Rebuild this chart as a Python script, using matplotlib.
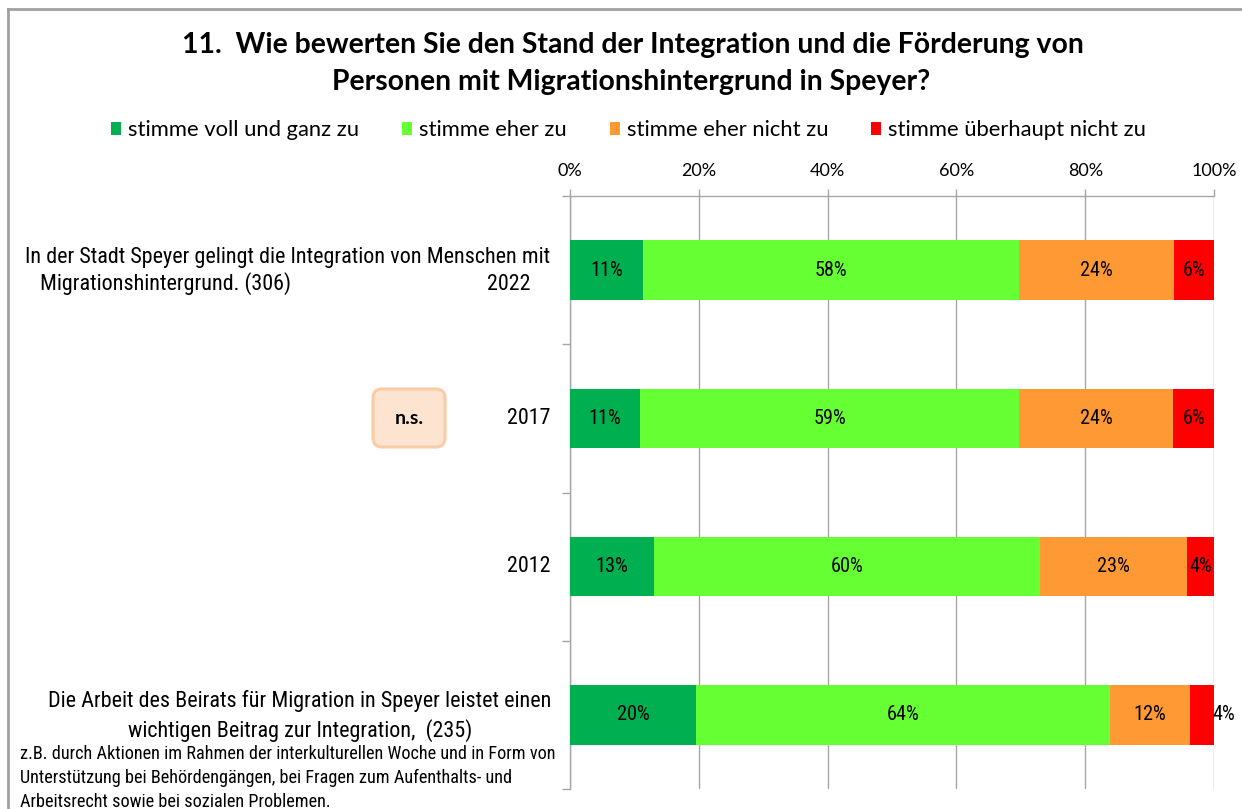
import matplotlib
matplotlib.use("Agg")
import matplotlib.pyplot as plt
from matplotlib.patches import FancyBboxPatch, Patch
from matplotlib.transforms import IdentityTransform
from matplotlib.lines import Line2D
from matplotlib import font_manager as fm

# ---------------- data ----------------
categories = ["2022", "2017", "2012", "Beirat"]
series_names = ["stimme voll und ganz zu", "stimme eher zu",
                "stimme eher nicht zu", "stimme überhaupt nicht zu"]
voll_und_ganz = [11.4, 10.9, 13.0, 19.6]
eher_zu = [58.3, 58.8, 60.0, 64.3]
eher_nicht_zu = [24.1, 24.0, 22.8, 12.3]
ueberhaupt_nicht = [6.2, 6.3, 4.2, 3.8]
colors = ["#00B050", "#66FF33", "#FF9933", "#FF0000"]
xticks = [0, 20, 40, 60, 80, 100]
xtick_labels = ["0%", "20%", "40%", "60%", "80%", "100%"]

title_lines = ["11.  Wie bewerten Sie den Stand der Integration und die Förderung von",
               "Personen mit Migrationshintergrund in Speyer?"]
q1_line1 = "In der Stadt Speyer gelingt die Integration von Menschen mit"
q1_line2 = "Migrationshintergrund. (306)"
q2_text = "Die Arbeit des Beirats für Migration in Speyer leistet einen\nwichtigen Beitrag zur Integration,  (235)"
footnote = ("z.B. durch Aktionen im Rahmen der interkulturellen Woche und in Form von\n"
            "Unterstützung bei Behördengängen, bei Fragen zum Aufenthalts- und\n"
            "Arbeitsrecht sowie bei sozialen Problemen.")
ns_text = "n.s."

# ---------------- fonts ----------------
avail = {f.name for f in fm.fontManager.ttflist}
narrow_kw = {"family": "Liberation Sans"}
if "Liberation Sans Narrow" in avail:
    narrow_kw = {"family": "Liberation Sans Narrow"}
elif "Roboto Condensed" in avail:
    narrow_kw = {"family": "Roboto Condensed"}
elif any(f.name == "DejaVu Sans" and f.stretch == "condensed" for f in fm.fontManager.ttflist):
    narrow_kw = {"family": "DejaVu Sans", "fontstretch": "condensed"}
cal = "Lato" if "Lato" in avail else "DejaVu Sans"

W, H = 1242, 809
fig = plt.figure(figsize=(W / 100, H / 100), dpi=100)
fig.patch.set_facecolor("white")
renderer = fig.canvas.get_renderer()


def fx(x):
    return x / W


def fy(y):
    return 1 - y / H


def fit(t, width):
    bb = t.get_window_extent(renderer)
    t.set_fontsize(t.get_fontsize() * width / bb.width)
    return t.get_fontsize()


# outer frame
fig.add_artist(Line2D([fx(8), 1], [fy(9), fy(9)], color="#A0A0A0", lw=2, transform=fig.transFigure))
fig.add_artist(Line2D([fx(8), fx(8)], [fy(9), 0], color="#A0A0A0", lw=2, transform=fig.transFigure))

# title
t1 = fig.text(fx(633), fy(45), title_lines[0], ha="center", va="center",
              fontsize=18, fontweight="bold", family=cal)
fs_title = fit(t1, 905)
t2 = fig.text(fx(631), fy(82), title_lines[1], ha="center", va="center",
              fontsize=fs_title, fontweight="bold", family=cal)

# data label size
probe = fig.text(0, 0, "58%", fontsize=14, **narrow_kw)
fs_dl = fit(probe, 33)
probe.remove()

# ---------------- axes ----------------
ax = fig.add_axes([fx(570), fy(789), 644 / W, 593 / H])
ypos = list(range(len(categories)))
left = [0.0] * len(categories)
series = [voll_und_ganz, eher_zu, eher_nicht_zu, ueberhaupt_nicht]
handles = []
last_labels = None
for vals, col, name in zip(series, colors, series_names):
    bars = ax.barh(ypos, vals, left=left, height=0.4, color=col, edgecolor="none",
                   label=name, zorder=3)
    last_labels = ax.bar_label(bars, labels=[f"{v:.0f}%" for v in vals], label_type="center",
                               fontsize=fs_dl, color="black", zorder=4, **narrow_kw)
    left = [l + v for l, v in zip(left, vals)]
    handles.append(Patch(facecolor=col, edgecolor="none", label=name))
# in the reference the last small label sits just outside the bar end
last_labels[-1].xyann = (16, 0)
last_labels[-1].set_clip_on(False)

ax.set_xlim(0, 100)
ax.set_ylim(len(categories) - 0.5, -0.5)
ax.xaxis.tick_top()
ax.set_xticks(xticks)
ax.set_xticklabels(xtick_labels, family=cal, fontsize=13)
ax.tick_params(axis="x", length=5, color="#A6A6A6", pad=7, width=1)
ax.grid(axis="x", color="#A6A6A6", lw=1, zorder=0)
ax.set_axisbelow(True)
ax.set_yticks([i - 0.5 for i in range(len(categories) + 1)])
ax.set_yticklabels([])
ax.tick_params(axis="y", length=6, color="#A6A6A6", width=1)
for s in ["bottom", "right"]:
    ax.spines[s].set_visible(False)
for s in ["top", "left"]:
    ax.spines[s].set_color("#A6A6A6")
    ax.spines[s].set_linewidth(1)

# ---------------- legend ----------------
probe = fig.text(0, 0, series_names[0], family=cal, fontsize=14)
fs_leg = fit(probe, 232)
probe.remove()
fs_px = fs_leg * 100 / 72
fig.legend(handles=handles, loc="center left", bbox_to_anchor=(fx(111), fy(130)),
           ncol=4, frameon=False, prop={"family": cal, "size": fs_leg},
           handlelength=10 / fs_px, handleheight=12 / fs_px, handletextpad=7 / fs_px,
           columnspacing=43 / fs_px, borderpad=0, borderaxespad=0)

# ---------------- category labels ----------------
l1 = fig.text(fx(550), fy(257), q1_line1, ha="right", va="center", fontsize=15, **narrow_kw)
fs_lab = fit(l1, 525)
fig.text(fx(40), fy(284), q1_line2, ha="left", va="center", fontsize=fs_lab, **narrow_kw)
fig.text(fx(530), fy(284), categories[0], ha="right", va="center", fontsize=fs_lab, **narrow_kw)
fig.text(fx(550), fy(418), categories[1], ha="right", va="center", fontsize=fs_lab, **narrow_kw)
fig.text(fx(550), fy(567), categories[2], ha="right", va="center", fontsize=fs_lab, **narrow_kw)
fig.text(fx(300), fy(716), q2_text, ha="center", va="center", multialignment="center",
         fontsize=fs_lab, linespacing=1.38, **narrow_kw)
fn = fig.text(fx(20), fy(778), footnote, ha="left", va="center",
              fontsize=11, linespacing=1.4, **narrow_kw)
bb = fn.get_window_extent(renderer)
fn.set_fontsize(fn.get_fontsize() * 537 / bb.width)

# n.s. box
box = FancyBboxPatch((373, H - 447), 72, 58, boxstyle="round,pad=0,rounding_size=9",
                     facecolor="#FDE4D0", edgecolor="#F9CCA6", lw=2.2,
                     transform=IdentityTransform())
fig.add_artist(box)
fig.text(fx(409), fy(418), ns_text, ha="center", va="center", family=cal,
         fontweight="bold", fontsize=14)

fig.savefig("out.png", dpi=100)
